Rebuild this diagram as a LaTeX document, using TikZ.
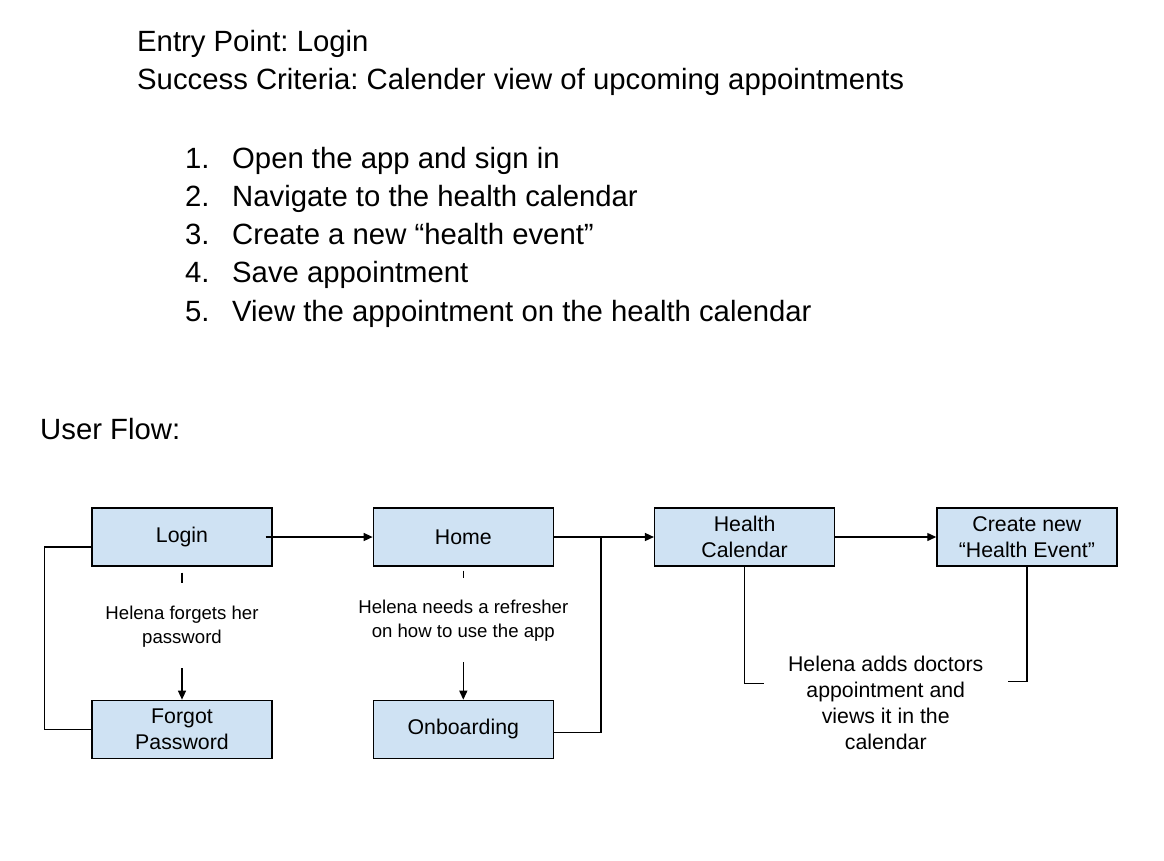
\documentclass[tikz,border=0pt]{standalone}
\usepackage{fontspec}
\setmainfont{Liberation Sans}
\usetikzlibrary{arrows.meta,positioning,calc}
\definecolor{boxblue}{RGB}{207,226,243}
\frenchspacing
\tikzset{
  screen/.style ={rectangle, draw=black, fill=boxblue, line width=1.3pt,
                  align=center, font=\fontsize{21.3}{26}\selectfont,
                  minimum width=180pt, minimum height=58pt, inner sep=2pt},
  note/.style   ={align=center, inner sep=0pt, font=\fontsize{18.6}{24}\selectfont},
  bignote/.style={align=center, inner sep=0pt, font=\fontsize{21.3}{26}\selectfont},
  head/.style   ={anchor=base west, inner sep=0pt, font=\fontsize{29.3}{38}\selectfont},
  link/.style   ={line width=1.4pt, draw=black},
  flow/.style   ={link, -{Triangle[length=9pt, width=8pt]}},
}

\begin{document}
\begin{tikzpicture}[x=1pt, y=1pt, node distance=133pt and 100pt]
  \useasboundingbox (0,0) rectangle (1164,-860);
  % header text
  \node[head] (entry) at (137,-51) {Entry Point: Login};
  \node[head] (crit)  at (137,-89) {Success Criteria: Calender view of upcoming appointments};
  \node[head] (num1)  at (185,-168) {1.};
  \node[head] (step1) at (232,-168) {Open the app and sign in};
  \node[head] (num2)  at (185,-206) {2.};
  \node[head] (step2) at (232,-206) {Navigate to the health calendar};
  \node[head] (num3)  at (185,-244) {3.};
  \node[head] (step3) at (232,-244) {Create a new “health event”};
  \node[head] (num4)  at (185,-282) {4.};
  \node[head] (step4) at (232,-282) {Save appointment};
  \node[head] (num5)  at (185,-321) {5.};
  \node[head] (step5) at (232,-321) {View the appointment on the health calendar};
  \node[head] (uflow) at (40,-439) {User Flow:};

  % screens
  \node[screen] (login) at (182,-537) {Login};
  \node[screen, right=of login]     (home)   {Home};
  \node[screen, right=100pt of home] (hcal)  {Health\\Calendar};
  \node[screen, right=101pt of hcal] (create) {Create new\\“Health Event”};
  \node[screen, below=of login]     (forgot) {Forgot\\Password};
  \node[screen, below=of home]      (onboard) {Onboarding};

  % main flow
  \draw[flow] ([xshift=-7pt]login.east) -- (home.west);
  \draw[flow] (home.east) -- (hcal.west);
  \draw[flow] (hcal.east) -- (create.west);
  \coordinate (join) at ($(home.east)!0.47!(hcal.west)$);
  \draw[link] ([yshift=-3pt]onboard.east) -| (join);
  \draw[link] ([yshift=-10pt]login.west) -- ++(-47,0) |- (forgot.west);

  % side notes
  \draw[link] ([yshift=-6pt]login.south) -- ++(0,-10);
  \node[note, below=39pt of login] (forgets) {Helena forgets her\\password};
  \draw[flow] ([yshift=-21pt]forgets.south) -- (forgot.north);
  \draw[link] ([yshift=-4pt]home.south) -- ++(0,-7);
  \node[note, below=33pt of home] (refresh) {Helena needs a refresher\\on how to use the app};
  \draw[flow] ([yshift=-21pt]refresh.south) -- (onboard.north);
  \coordinate (mid) at ($(hcal.south)!0.5!(create.south)$);
  \node[bignote, below=89pt of mid] (adds) {Helena adds doctors\\appointment and\\views it in the\\calendar};
  \draw[link] (hcal.south) -- ++(0,-117) -- ++(19,0);
  \draw[link] (create.south) -- ++(0,-115) -- ++(-19,0);
\end{tikzpicture}
\end{document}
